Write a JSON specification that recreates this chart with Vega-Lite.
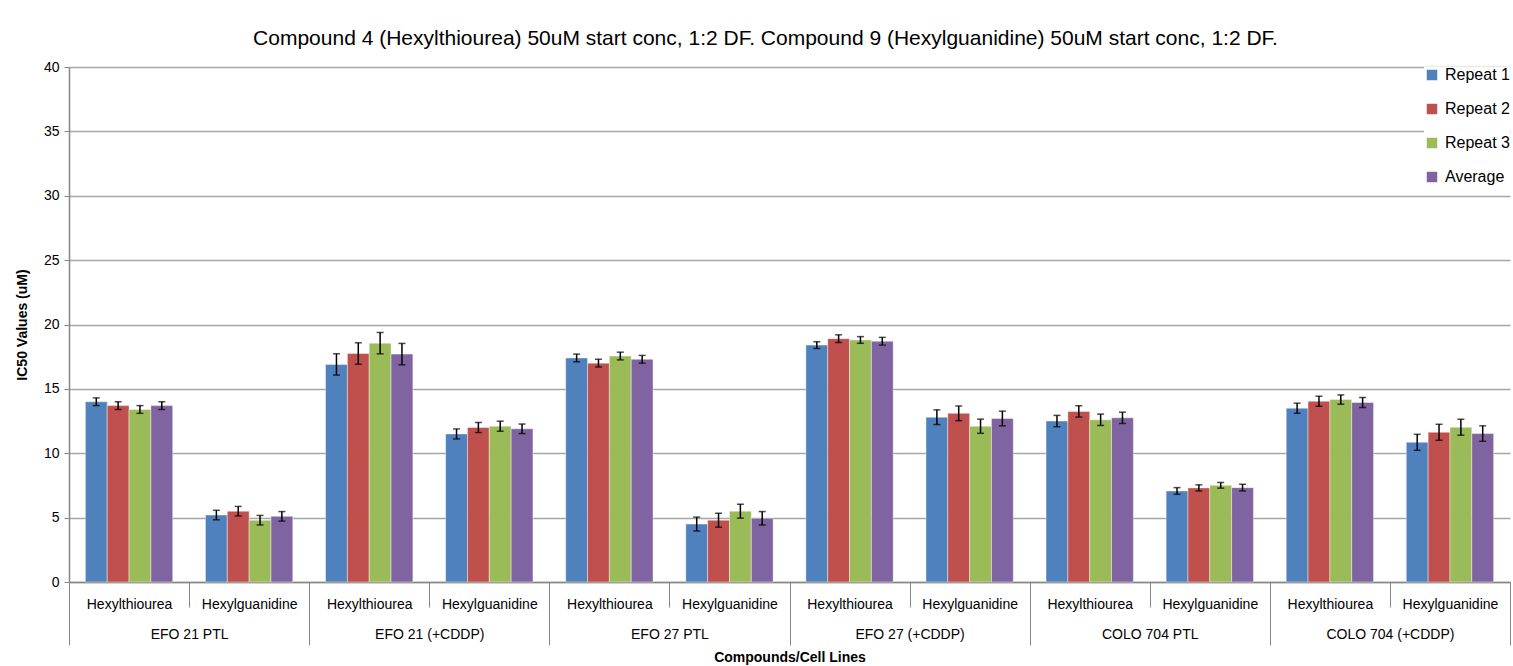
{
  "$schema": "https://vega.github.io/schema/vega-lite/v6.json",
  "width": 1441,
  "height": 515,
  "autosize": {"type": "none"},
  "padding": {"left": 69, "top": 67, "right": 3, "bottom": 84},
  "background": "white",
  "title": {"text": "Compound 4 (Hexylthiourea) 50uM start conc, 1:2 DF. Compound 9 (Hexylguanidine) 50uM start conc, 1:2 DF.", "font": "Liberation Sans", "fontSize": 21, "fontWeight": "normal", "color": "black", "anchor": "middle", "offset": 11, "dx": -24},
  "config": {
    "font": "Liberation Sans",
    "view": {"stroke": null}
  },
  "data": {"values": [
    {"cell": "EFO 21 PTL", "compound": "Hexylthiourea", "series": "Repeat 1", "value": 14.0, "err": 0.3},
    {"cell": "EFO 21 PTL", "compound": "Hexylthiourea", "series": "Repeat 2", "value": 13.7, "err": 0.3},
    {"cell": "EFO 21 PTL", "compound": "Hexylthiourea", "series": "Repeat 3", "value": 13.4, "err": 0.3},
    {"cell": "EFO 21 PTL", "compound": "Hexylthiourea", "series": "Average", "value": 13.7, "err": 0.3},
    {"cell": "EFO 21 PTL", "compound": "Hexylguanidine", "series": "Repeat 1", "value": 5.2, "err": 0.37},
    {"cell": "EFO 21 PTL", "compound": "Hexylguanidine", "series": "Repeat 2", "value": 5.5, "err": 0.37},
    {"cell": "EFO 21 PTL", "compound": "Hexylguanidine", "series": "Repeat 3", "value": 4.8, "err": 0.37},
    {"cell": "EFO 21 PTL", "compound": "Hexylguanidine", "series": "Average", "value": 5.1, "err": 0.37},
    {"cell": "EFO 21 (+CDDP)", "compound": "Hexylthiourea", "series": "Repeat 1", "value": 16.9, "err": 0.83},
    {"cell": "EFO 21 (+CDDP)", "compound": "Hexylthiourea", "series": "Repeat 2", "value": 17.75, "err": 0.83},
    {"cell": "EFO 21 (+CDDP)", "compound": "Hexylthiourea", "series": "Repeat 3", "value": 18.55, "err": 0.83},
    {"cell": "EFO 21 (+CDDP)", "compound": "Hexylthiourea", "series": "Average", "value": 17.7, "err": 0.83},
    {"cell": "EFO 21 (+CDDP)", "compound": "Hexylguanidine", "series": "Repeat 1", "value": 11.5, "err": 0.39},
    {"cell": "EFO 21 (+CDDP)", "compound": "Hexylguanidine", "series": "Repeat 2", "value": 12.0, "err": 0.39},
    {"cell": "EFO 21 (+CDDP)", "compound": "Hexylguanidine", "series": "Repeat 3", "value": 12.1, "err": 0.39},
    {"cell": "EFO 21 (+CDDP)", "compound": "Hexylguanidine", "series": "Average", "value": 11.9, "err": 0.37},
    {"cell": "EFO 27 PTL", "compound": "Hexylthiourea", "series": "Repeat 1", "value": 17.4, "err": 0.3},
    {"cell": "EFO 27 PTL", "compound": "Hexylthiourea", "series": "Repeat 2", "value": 17.0, "err": 0.3},
    {"cell": "EFO 27 PTL", "compound": "Hexylthiourea", "series": "Repeat 3", "value": 17.55, "err": 0.3},
    {"cell": "EFO 27 PTL", "compound": "Hexylthiourea", "series": "Average", "value": 17.3, "err": 0.3},
    {"cell": "EFO 27 PTL", "compound": "Hexylguanidine", "series": "Repeat 1", "value": 4.5, "err": 0.54},
    {"cell": "EFO 27 PTL", "compound": "Hexylguanidine", "series": "Repeat 2", "value": 4.8, "err": 0.54},
    {"cell": "EFO 27 PTL", "compound": "Hexylguanidine", "series": "Repeat 3", "value": 5.5, "err": 0.54},
    {"cell": "EFO 27 PTL", "compound": "Hexylguanidine", "series": "Average", "value": 4.95, "err": 0.52},
    {"cell": "EFO 27 (+CDDP)", "compound": "Hexylthiourea", "series": "Repeat 1", "value": 18.4, "err": 0.26},
    {"cell": "EFO 27 (+CDDP)", "compound": "Hexylthiourea", "series": "Repeat 2", "value": 18.9, "err": 0.3},
    {"cell": "EFO 27 (+CDDP)", "compound": "Hexylthiourea", "series": "Repeat 3", "value": 18.8, "err": 0.26},
    {"cell": "EFO 27 (+CDDP)", "compound": "Hexylthiourea", "series": "Average", "value": 18.7, "err": 0.3},
    {"cell": "EFO 27 (+CDDP)", "compound": "Hexylguanidine", "series": "Repeat 1", "value": 12.8, "err": 0.57},
    {"cell": "EFO 27 (+CDDP)", "compound": "Hexylguanidine", "series": "Repeat 2", "value": 13.1, "err": 0.57},
    {"cell": "EFO 27 (+CDDP)", "compound": "Hexylguanidine", "series": "Repeat 3", "value": 12.1, "err": 0.55},
    {"cell": "EFO 27 (+CDDP)", "compound": "Hexylguanidine", "series": "Average", "value": 12.7, "err": 0.57},
    {"cell": "COLO 704 PTL", "compound": "Hexylthiourea", "series": "Repeat 1", "value": 12.5, "err": 0.44},
    {"cell": "COLO 704 PTL", "compound": "Hexylthiourea", "series": "Repeat 2", "value": 13.25, "err": 0.44},
    {"cell": "COLO 704 PTL", "compound": "Hexylthiourea", "series": "Repeat 3", "value": 12.6, "err": 0.44},
    {"cell": "COLO 704 PTL", "compound": "Hexylthiourea", "series": "Average", "value": 12.75, "err": 0.44},
    {"cell": "COLO 704 PTL", "compound": "Hexylguanidine", "series": "Repeat 1", "value": 7.07, "err": 0.26},
    {"cell": "COLO 704 PTL", "compound": "Hexylguanidine", "series": "Repeat 2", "value": 7.31, "err": 0.24},
    {"cell": "COLO 704 PTL", "compound": "Hexylguanidine", "series": "Repeat 3", "value": 7.51, "err": 0.22},
    {"cell": "COLO 704 PTL", "compound": "Hexylguanidine", "series": "Average", "value": 7.33, "err": 0.26},
    {"cell": "COLO 704 (+CDDP)", "compound": "Hexylthiourea", "series": "Repeat 1", "value": 13.5, "err": 0.39},
    {"cell": "COLO 704 (+CDDP)", "compound": "Hexylthiourea", "series": "Repeat 2", "value": 14.04, "err": 0.39},
    {"cell": "COLO 704 (+CDDP)", "compound": "Hexylthiourea", "series": "Repeat 3", "value": 14.17, "err": 0.36},
    {"cell": "COLO 704 (+CDDP)", "compound": "Hexylthiourea", "series": "Average", "value": 13.94, "err": 0.39},
    {"cell": "COLO 704 (+CDDP)", "compound": "Hexylguanidine", "series": "Repeat 1", "value": 10.85, "err": 0.62},
    {"cell": "COLO 704 (+CDDP)", "compound": "Hexylguanidine", "series": "Repeat 2", "value": 11.63, "err": 0.62},
    {"cell": "COLO 704 (+CDDP)", "compound": "Hexylguanidine", "series": "Repeat 3", "value": 12.02, "err": 0.62},
    {"cell": "COLO 704 (+CDDP)", "compound": "Hexylguanidine", "series": "Average", "value": 11.53, "err": 0.6}
  ]},
  "transform": [
    {"calculate": "datum.cell + '|' + datum.compound", "as": "key"},
    {"calculate": "datum.value - datum.err", "as": "lo"},
    {"calculate": "datum.value + datum.err", "as": "hi"}
  ],
  "layer": [
    {
      "encoding": {
        "x": {"field": "key", "type": "nominal", "sort": null,
          "scale": {"paddingInner": 0, "paddingOuter": 0},
          "axis": {"title": null, "labelExpr": "split(datum.label, '|')[1]", "labelAngle": 0, "labelFont": "Liberation Sans", "labelFontSize": 14, "labelColor": "black", "tickBand": "extent", "tickSize": 25, "tickColor": "#868686", "labelPadding": -10, "domainColor": "#868686", "domainWidth": 1.5}},
        "xOffset": {"field": "series", "type": "nominal", "sort": ["Repeat 1", "Repeat 2", "Repeat 3", "Average"], "scale": {"paddingInner": 0, "paddingOuter": 0.75}}
      },
      "layer": [
        {
          "mark": {"type": "bar", "stroke": "white", "strokeWidth": 0.6, "strokeOpacity": 0.7},
          "encoding": {
            "y": {"field": "value", "type": "quantitative", "scale": {"domain": [0, 40]},
              "axis": {"title": "IC50 Values (uM)", "values": [0, 5, 10, 15, 20, 25, 30, 35, 40], "labelFont": "Liberation Sans", "labelFontSize": 14, "labelColor": "black", "titleFont": "Liberation Sans", "titleFontSize": 14, "titleColor": "black", "titleFontWeight": "bold", "gridColor": "#A6A6A6", "gridWidth": 1.5, "tickSize": 5, "tickColor": "#868686", "labelPadding": 5, "titlePadding": 14, "domainColor": "#868686", "domainWidth": 1.5}},
            "color": {"field": "series", "type": "nominal", "sort": ["Repeat 1", "Repeat 2", "Repeat 3", "Average"],
              "scale": {"domain": ["Repeat 1", "Repeat 2", "Repeat 3", "Average"], "range": ["#4F81BD", "#C0504D", "#9BBB59", "#8064A2"]},
              "legend": {"title": null, "orient": "top-right", "offset": 0, "fillColor": "white", "padding": 0, "symbolType": "square", "symbolSize": 110, "symbolStrokeWidth": 0, "labelFontSize": 16, "labelFont": "Liberation Sans", "labelColor": "black", "rowPadding": 18, "labelOffset": 5}}
          }
        },
        {
          "mark": {"type": "rule", "color": "black", "strokeWidth": 1.5},
          "encoding": {
            "y": {"field": "lo", "type": "quantitative", "title": "IC50 Values (uM)"},
            "y2": {"field": "hi"}
          }
        },
        {
          "mark": {"type": "tick", "color": "black", "size": 7, "thickness": 1.5},
          "encoding": {"y": {"field": "lo", "type": "quantitative", "title": "IC50 Values (uM)"}}
        },
        {
          "mark": {"type": "tick", "color": "black", "size": 7, "thickness": 1.5},
          "encoding": {"y": {"field": "hi", "type": "quantitative", "title": "IC50 Values (uM)"}}
        }
      ]
    },
    {
      "mark": {"type": "point", "opacity": 0},
      "encoding": {
        "x": {"field": "cell", "type": "nominal", "sort": null,
          "scale": {"paddingInner": 0, "paddingOuter": 0},
          "axis": {"orient": "bottom", "title": "Compounds/Cell Lines", "labelAngle": 0, "labelFont": "Liberation Sans", "labelFontSize": 14, "labelColor": "black", "titleFont": "Liberation Sans", "titleFontSize": 14, "titleColor": "black", "titleFontWeight": "bold", "domain": false, "tickBand": "extent", "tickSize": 63, "tickColor": "#868686", "labelPadding": -18, "titlePadding": 5}},
        "y": {"field": "value", "type": "quantitative", "title": "IC50 Values (uM)"}
      }
    }
  ],
  "resolve": {"scale": {"x": "independent"}, "axis": {"x": "independent"}}
}
